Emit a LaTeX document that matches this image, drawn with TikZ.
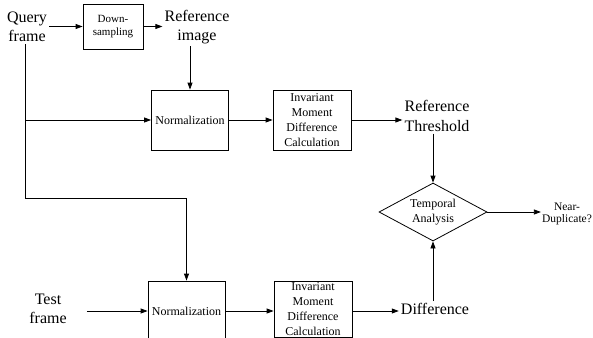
\documentclass[tikz,border=0pt]{standalone}
\usepackage{fontspec}
\setmainfont{Liberation Serif}
\usetikzlibrary{shapes.geometric,arrows.meta}
\begin{document}
\begin{tikzpicture}[x=1pt,y=-1pt,
  big/.style={font=\fontsize{16}{19.5}\selectfont,align=center,inner sep=2pt},
  box/.style={draw,line width=0.8pt,align=center,inner sep=1pt,font=\fontsize{12}{15}\selectfont},
  arr/.style={line width=0.8pt,-{Triangle[length=7pt,width=5pt]}},
  ln/.style={line width=0.8pt}]
\useasboundingbox (0,0) rectangle (593,337);
\node[big] (qf) at (27,27) {Query\\frame};
\node[box,minimum width=60pt,minimum height=45pt,font=\fontsize{11}{13.5}\selectfont] (ds) at (113,26.5) {Down-\\sampling};
\node[big] (ri) at (197,27) {Reference\\image};
\node[box,minimum width=77pt,minimum height=60pt] (n1) at (190,120) {Normalization};
\node[box,minimum width=78pt,minimum height=60pt] (i1) at (312,120) {Invariant\\Moment\\Difference\\Calculation};
\node[big] (rt) at (437,116) {Reference\\Threshold};
\node[draw,line width=0.8pt,diamond,aspect=1.86,inner sep=0pt,minimum width=108pt,minimum height=58pt,align=center,font=\fontsize{12}{15}\selectfont] (ta) at (433,212) {Temporal\\Analysis};
\node[align=center,inner sep=1pt,font=\fontsize{11.5}{12.5}\selectfont] (nd) at (567,214) {Near-\\Duplicate?};
\node[big] (tf) at (48,309) {Test\\frame};
\node[box,minimum width=77pt,minimum height=60pt] (n2) at (186.5,311) {Normalization};
\node[box,minimum width=78pt,minimum height=56pt] (i2) at (313,309) {Invariant\\Moment\\Difference\\Calculation};
\node[big] (df) at (435,309) {Difference};
\coordinate (j1) at (25,120);
\coordinate (j2) at (25,198);
\draw[arr] (ds.west -| qf.east) -- (ds.west);
\draw[arr] (ds.east) -- (ds.east -| ri.west);
\draw[arr] (ri.south -| n1.north) -- (n1.north);
\draw[ln] (qf.south -| j1) -- (j2);
\draw[arr] (j2) -| (n2.north);
\draw[arr] (j1) -- (n1.west);
\draw[arr] (n1.east) -- (i1.west);
\draw[arr] (i1.east) -- (i1.east -| rt.west);
\draw[arr] (rt.south -| ta.north) -- (ta.north);
\draw[arr] (ta.east) -- (nd.west |- ta.east);
\draw[arr,shorten <=18pt] (tf.east |- n2.west) -- (n2.west);
\draw[arr] (n2.east) -- (i2.west |- n2.east);
\draw[arr] (i2.east |- n2.east) -- (n2.east -| df.west);
\draw[arr] (df.north -| ta.south) -- (ta.south);
\end{tikzpicture}
\end{document}
